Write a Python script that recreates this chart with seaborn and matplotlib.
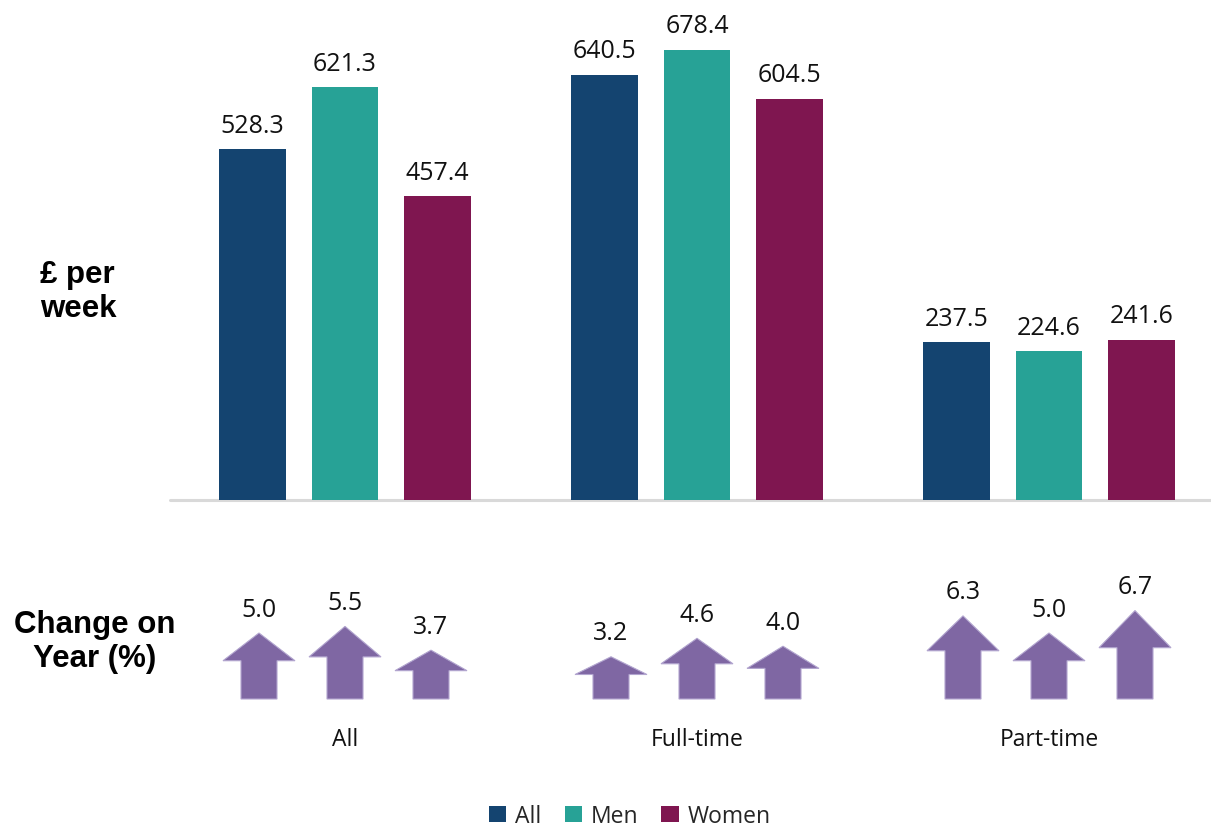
import matplotlib
matplotlib.use("Agg")
import matplotlib.pyplot as plt
from matplotlib.patches import Polygon, Patch
import numpy as np
import pandas as pd
import seaborn as sns

# Weekly earnings (£) by working pattern and sex
groups = ["All", "Full-time", "Part-time"]
series = ["All", "Men", "Women"]
weekly_all = [528.3, 640.5, 237.5]
weekly_men = [621.3, 678.4, 224.6]
weekly_women = [457.4, 604.5, 241.6]

# Percentage change on the previous year
change_all = [5.0, 3.2, 6.3]
change_men = [5.5, 4.6, 5.0]
change_women = [3.7, 4.0, 6.7]

palette = {"All": "#144470", "Men": "#27A296", "Women": "#7F1650"}
arrow_color = "#7F67A3"
arrow_edge = "#B2A5CF"

sns.set_theme(style="white")
plt.rcParams["font.family"] = ["Open Sans", "DejaVu Sans"]

df = pd.DataFrame({
    "group": groups * 3,
    "series": ["All"] * 3 + ["Men"] * 3 + ["Women"] * 3,
    "value": weekly_all + weekly_men + weekly_women,
})

W, H = 1211, 828
fig = plt.figure(figsize=(W / 100, H / 100), dpi=100)

unit_px = 352.0          # one category step in pixels
x_left = -175 / unit_px
x_right = (W - 170) / unit_px + x_left

# --- change-on-year arrow panel (added first so the bar panel sits on top) ---
px_per_pct = 13.2
axa = fig.add_axes([170 / W, (H - 700) / H, (W - 170) / W, 180 / H])
axa.patch.set_visible(False)
axa.set_xlim(x_left, x_right)
axa.set_ylim(0, 180 / px_per_pct)
for s in axa.spines.values():
    s.set_visible(False)
axa.set_yticks([])
axa.set_xticks(range(len(groups)), labels=groups, fontsize=16.5)
axa.tick_params(axis="x", length=0, pad=20, colors="#111111")

offset = 86 / unit_px
head_half = 36 / unit_px
shaft_half = 18 / unit_px
changes = [change_all, change_men, change_women]
for j, vals in enumerate(changes):
    for i, v in enumerate(vals):
        c = i + (j - 1) * offset
        head_base = v * (1 - 0.42)
        pts = [(c - shaft_half, 0), (c + shaft_half, 0),
               (c + shaft_half, head_base), (c + head_half, head_base),
               (c, v), (c - head_half, head_base), (c - shaft_half, head_base)]
        axa.add_patch(Polygon(pts, closed=True, facecolor=arrow_color,
                              edgecolor=arrow_edge, lw=0.8, clip_on=False))
        axa.annotate(f"{v:.1f}", (c, v), xytext=(0, 12.5),
                     textcoords="offset points", ha="center", va="baseline",
                     fontsize=18, color="#111111")

# --- bar panel ---
ax = fig.add_axes([170 / W, (H - 501) / H, (W - 170) / W, 501 / H])
ax.patch.set_visible(False)
sns.barplot(data=df, x="group", y="value", hue="series", order=groups,
            hue_order=series, palette=palette, width=0.79, gap=0.28,
            saturation=1, legend=False, ax=ax, zorder=2, linewidth=0)
ax.set_xlim(x_left, x_right)
ax.set_ylim(0, 501 / 0.664)
ax.axhline(0, color="#D9D9D9", lw=2.2, zorder=1, clip_on=False)
for s in ax.spines.values():
    s.set_visible(False)
ax.set_xticks([])
ax.set_yticks([])
ax.set_xlabel("")
ax.set_ylabel("")

values_by_series = [weekly_all, weekly_men, weekly_women]
for container, vals in zip(ax.containers, values_by_series):
    for patch, v in zip(container.patches, vals):
        cx = patch.get_x() + patch.get_width() / 2
        ax.annotate(f"{v:.1f}", (cx, v), xytext=(0, 12.5),
                    textcoords="offset points", ha="center", va="baseline",
                    fontsize=18, color="#111111")

# --- side labels ---
fig.text(40 / W, 1 - 292 / H, "£ per\nweek", ha="left", va="center",
         fontsize=22.5, fontweight="bold", family=["Liberation Sans", "DejaVu Sans"],
         color="#000000", linespacing=1.15)
fig.text(95 / W, 1 - 642 / H, "Change on\nYear (%)", ha="center", va="center",
         multialignment="center", fontsize=22.5, fontweight="bold",
         family=["Liberation Sans", "DejaVu Sans"], color="#000000",
         linespacing=1.15)

# --- legend ---
handles = [Patch(facecolor=palette[s], edgecolor="none") for s in series]
fig.legend(handles, series, loc="center", bbox_to_anchor=(630 / W, 11 / H),
           ncol=3, frameon=False, fontsize=16.5, handlelength=0.75,
           handleheight=0.75, handletextpad=0.4, columnspacing=1.0,
           borderaxespad=0)

fig.savefig("out.png", dpi=100)
